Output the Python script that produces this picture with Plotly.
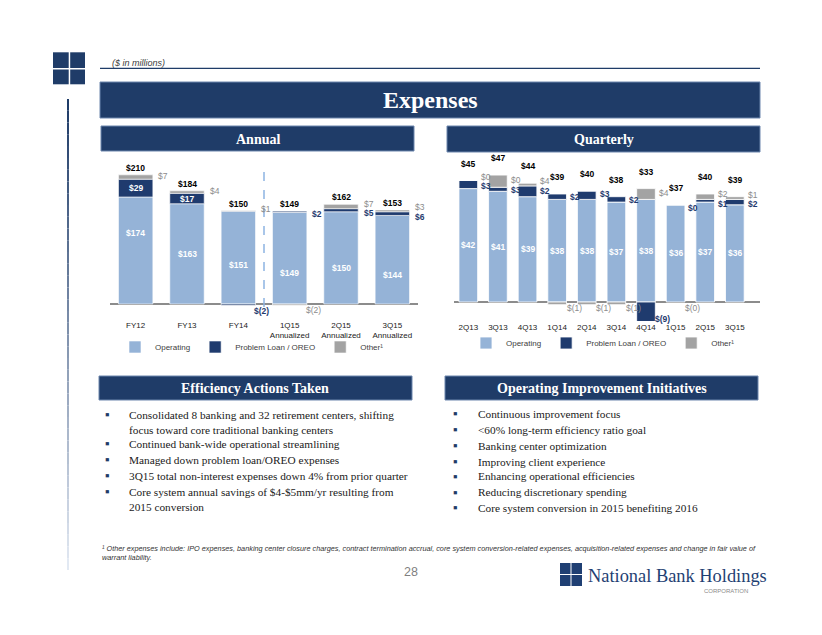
import plotly.graph_objects as go

# ---------------- data ----------------
annual_cats = ["FY12", "FY13", "FY14", "1Q15<br>Annualized", "2Q15<br>Annualized", "3Q15<br>Annualized"]
annual_operating = [174, 163, 151, 149, 150, 144]
annual_problem = [29, 17, -2, 2, 5, 6]
annual_other = [7, 4, 1, -2, 7, 3]
annual_total = [210, 184, 150, 149, 162, 153]

quarter_cats = ["2Q13", "3Q13", "4Q13", "1Q14", "2Q14", "3Q14", "4Q14", "1Q15", "2Q15", "3Q15"]
quarter_operating = [42, 41, 39, 38, 38, 37, 38, 36, 37, 36]
quarter_problem = [3, 1.5, 4, 2, 3, 2, -9, 0, 1, 2]
quarter_other = [0, 4.5, 1, -1, -1, -1, 4, 0, 2, 1]
quarter_total = [45, 47, 44, 39, 40, 38, 33, 37, 40, 39]
quarter_problem_text = ["$3", "$3", "$2", "$2", "$3", "$2", "$(9)", "$0", "$1", "$2"]
quarter_other_text = ["$0", "$0", "$4", "$(1)", "$(1)", "$(1)", "$4", "$(0)", "$2", "$1"]

series_names = ["Operating", "Problem Loan / OREO", "Other\u00b9"]

efficiency_bullets = [
    "Consolidated 8 banking and 32 retirement centers, shifting<br>focus toward core traditional banking centers",
    "Continued bank-wide operational streamlining",
    "Managed down problem loan/OREO expenses",
    "3Q15 total non-interest expenses down 4% from prior quarter",
    "Core system annual savings of $4-$5mm/yr resulting from<br>2015 conversion",
]
improvement_bullets = [
    "Continuous improvement focus",
    "<60% long-term efficiency ratio goal",
    "Banking center optimization",
    "Improving client experience",
    "Enhancing operational efficiencies",
    "Reducing discretionary spending",
    "Core system conversion in 2015 benefiting 2016",
]
footnote = ("\u00b9 Other expenses include: IPO expenses, banking center closure charges, contract termination accrual, "
            "core system conversion-related expenses, acquisition-related expenses and change in fair value of<br>warrant liability.")

# ---------------- style / layout ----------------
W, H = 822, 635
SANS = "Arial, Liberation Sans, sans-serif"
SERIF = "Times New Roman, Liberation Serif, serif"
C_OP = "#95B3D7"
C_PB = "#1F3B6E"
C_OT = "#A3A3A3"
C_OT_TXT = "#8C8C8C"
NAVY = "#1F3C68"


def P(x):
    return x / W


def Q(y):
    return 1 - y / H


# annual geometry (pixels)
A_BASE, A_PPU, A_TOP, A_BOT = 304, 0.615, 160, 310
A_X0, A_X1 = 110, 418
# quarterly geometry
Q_BASE, Q_PPU, Q_TOP, Q_BOT = 302, 2.7, 158, 321
Q_X0, Q_X1 = 453.5, 760

A_BW, Q_BW = 0.67, 0.63
annual_op_frac = [0.66, 0.5, 0.42, 0.34, 0.39, 0.33]


def fmt(v):
    v = int(round(v))
    return "$(%d)" % abs(v) if v < 0 else "$%d" % v


fig = go.Figure()
for vals, name, col in zip([annual_operating, annual_problem, annual_other], series_names, [C_OP, C_PB, C_OT]):
    fig.add_trace(go.Bar(x=annual_cats, y=vals, name=name, width=A_BW, xaxis="x", yaxis="y", legend="legend",
                         marker=dict(color=col, line=dict(color="white", width=0.6)), hoverinfo="skip"))
for vals, name, col in zip([quarter_operating, quarter_problem, quarter_other], series_names, [C_OP, C_PB, C_OT]):
    fig.add_trace(go.Bar(x=quarter_cats, y=vals, name=name, width=Q_BW, xaxis="x2", yaxis="y2", legend="legend2",
                         marker=dict(color=col, line=dict(color="white", width=0.8)), hoverinfo="skip"))

annotations = []


def ann(x, y, text, color, xref="paper", yref="paper", size=8.5, bold=True, family=SANS,
        xanchor="center", yanchor="middle", xshift=0, yshift=0, align="center"):
    annotations.append(dict(x=x, y=y, xref=xref, yref=yref, text=("<b>%s</b>" % text) if bold else text,
                            showarrow=False, font=dict(family=family, size=size, color=color),
                            xanchor=xanchor, yanchor=yanchor, xshift=xshift, yshift=yshift, align=align))


def chart_labels(xr, yr, ops, pbs, ots, totals, pb_txt, ot_txt, ppu, bw, rshift, below_dx,
                 op_fracs, total_shift, inside_min):
    for i in range(len(ops)):
        op, pb, ot = ops[i], pbs[i], ots[i]
        pos_top = op + max(pb, 0) + max(ot, 0)
        ann(i, pos_top, fmt(totals[i]), "#000000", xr, yr, yshift=total_shift)
        ann(i, op * op_fracs[i], fmt(op), "#FFFFFF", xr, yr)
        right = []
        # problem loan
        if pb >= inside_min:
            ann(i, op + pb / 2, pb_txt[i], "#FFFFFF", xr, yr)
        elif "(" in pb_txt[i]:
            off = max(7, abs(pb) * ppu - 7)
            ann(i + below_dx, 0, pb_txt[i], C_PB, xr, yr, xanchor="left", yshift=-off)
        else:
            right.append(["pb", op + max(pb, 0), -3])
        # other
        if "(" in ot_txt[i]:
            ann(i + below_dx, 0, ot_txt[i], C_OT_TXT, xr, yr, bold=False, xanchor="left", yshift=-6)
        else:
            right.append(["ot", op + max(pb, 0) + ot / 2, 1.5])
        if len(right) == 2:
            pbl, otl = right
            p_px = -pbl[1] * ppu - pbl[2]
            o_px = -otl[1] * ppu - otl[2]
            gap = p_px - o_px
            if gap < 9.5:
                d = (9.5 - gap) / 2
                pbl[2] += -d
                otl[2] += d
        for kind, yv, ys in right:
            if kind == "pb":
                ann(i + bw / 2, yv, pb_txt[i], C_PB, xr, yr, xanchor="left", xshift=rshift, yshift=ys)
            else:
                ann(i + bw / 2, yv, ot_txt[i], C_OT_TXT, xr, yr, bold=False, xanchor="left",
                    xshift=rshift, yshift=ys)


chart_labels("x", "y", annual_operating, annual_problem, annual_other, annual_total,
             [fmt(v) for v in annual_problem], [fmt(v) for v in annual_other],
             A_PPU, A_BW, 3.5, 0.27, annual_op_frac, 7, 10)
chart_labels("x2", "y2", quarter_operating, quarter_problem, quarter_other, quarter_total,
             quarter_problem_text, quarter_other_text,
             Q_PPU, Q_BW, 1.5, 0.25, [0.5] * len(quarter_cats), 17, 1e9)

shapes = []


def rect(x0, y0, x1, y1, fill, line=None, lw=0):
    shapes.append(dict(type="rect", xref="paper", yref="paper", x0=P(x0), x1=P(x1), y0=Q(y1), y1=Q(y0),
                       fillcolor=fill, line=dict(color=line or fill, width=lw), layer="below"))


# top-left squares
for (x0, x1) in [(53, 68.7), (70.2, 85)]:
    for (y0, y1) in [(52.3, 68), (69.5, 84.3)]:
        rect(x0, y0, x1, y1, NAVY)

# vertical gradient rule
n_seg = 40
y_a, y_b = 99, 570
c0 = (0x1F, 0x3C, 0x68)
c1 = (0xE2, 0xE9, 0xF3)
for k in range(n_seg):
    t = k / (n_seg - 1)
    col = "rgb(%d,%d,%d)" % tuple(int(c0[j] + (c1[j] - c0[j]) * t) for j in range(3))
    ya = y_a + (y_b - y_a) * k / n_seg
    yb = y_a + (y_b - y_a) * (k + 1) / n_seg
    shapes.append(dict(type="line", xref="paper", yref="paper", x0=P(68), x1=P(68), y0=Q(ya), y1=Q(yb),
                       line=dict(color=col, width=2)))

# rule under ($ in millions)
shapes.append(dict(type="line", xref="paper", yref="paper", x0=P(100), x1=P(760), y0=Q(68.3), y1=Q(68.3),
                   line=dict(color=NAVY, width=1.2)))

# header boxes
boxes = [
    (100, 82, 760, 118, "Expenses", 24),
    (101, 126, 414, 151, "Annual", 14),
    (447, 126, 760, 152, "Quarterly", 14),
    (99, 376, 412, 400, "Efficiency Actions Taken", 14),
    (445, 376, 758, 400, "Operating Improvement Initiatives", 14),
]
for x0, y0, x1, y1, txt, fs in boxes:
    rect(x0, y0, x1, y1, NAVY, "#6C86AD", 1)
    ann(P((x0 + x1) / 2), Q((y0 + y1) / 2 + 0.5), txt, "#FFFFFF", size=fs, family=SERIF)

# dashed divider in annual chart
shapes.append(dict(type="line", xref="x", yref="y", x0=2.5, x1=2.5, y0=-5, y1=229,
                   line=dict(color="#8DB4E2", width=1.5, dash="dash")))

# logo squares
for (x0, x1) in [(560, 570.5), (571.5, 582)]:
    for (y0, y1) in [(563, 574), (575, 586)]:
        rect(x0, y0, x1, y1, "#1F3F73")

# texts
ann(P(110), Q(63.5), "<i>($ in millions)</i>", "#404040", size=9, bold=False, xanchor="left")

lines_y_left = [414, 443, 459, 475, 491]
for txt, yy in zip(efficiency_bullets, lines_y_left):
    ann(P(103), Q(yy), "\u25aa", NAVY, size=13, bold=False, xanchor="left")
    ann(P(127), Q(yy - 7.5), txt, "#1A1A1A", size=11.3, bold=False, family=SERIF, xanchor="left",
        yanchor="top", align="left")
lines_y_right = [413, 429, 445, 461, 476, 492, 507]
for txt, yy in zip(improvement_bullets, lines_y_right):
    ann(P(451), Q(yy), "\u25aa", NAVY, size=13, bold=False, xanchor="left")
    ann(P(476), Q(yy - 7.5), txt, "#1A1A1A", size=11.3, bold=False, family=SERIF, xanchor="left",
        yanchor="top", align="left")

ann(P(100), Q(542), "<i>%s</i>" % footnote, "#333333", size=7.3, bold=False, xanchor="left", yanchor="top",
    align="left")
ann(P(411), Q(572), "28", "#7F7F7F", size=12.5, bold=False)
ann(P(586), Q(576), "National Bank Holdings", "#1F3F73", size=18.4, bold=False, family=SERIF, xanchor="left")
ann(P(726), Q(590.5), "CORPORATION", "#8A8A8A", size=6, bold=False)

fig.update_layout(
    width=W, height=H, margin=dict(l=0, r=0, t=0, b=0),
    paper_bgcolor="white", plot_bgcolor="rgba(0,0,0,0)",
    barmode="relative", hovermode=False, showlegend=True,
    xaxis=dict(domain=[P(A_X0), P(A_X1)], anchor="y", type="category", range=[-0.5, 5.5],
               showgrid=False, showline=False, zeroline=False, ticks="outside", ticklen=7,
               tickcolor="rgba(0,0,0,0)", tickfont=dict(family=SANS, size=8, color="#222222")),
    yaxis=dict(domain=[Q(A_BOT), Q(A_TOP)], anchor="x",
               range=[-(A_BOT - A_BASE) / A_PPU, (A_BASE - A_TOP) / A_PPU],
               showgrid=False, showticklabels=False, showline=False, zeroline=True,
               zerolinecolor="#8C8C8C", zerolinewidth=1.5),
    xaxis2=dict(domain=[P(Q_X0), P(Q_X1)], anchor="y2", type="category", range=[-0.5, 9.85],
                showgrid=False, showline=False, zeroline=False, ticks="",
                tickfont=dict(family=SANS, size=8, color="#222222")),
    yaxis2=dict(domain=[Q(Q_BOT), Q(Q_TOP)], anchor="x2",
                range=[-(Q_BOT - Q_BASE) / Q_PPU, (Q_BASE - Q_TOP) / Q_PPU],
                showgrid=False, showticklabels=False, showline=False, zeroline=True,
                zerolinecolor="#8C8C8C", zerolinewidth=1.5),
    legend=dict(orientation="h", x=P(115), y=Q(347), xanchor="left", yanchor="middle",
                font=dict(family=SANS, size=8, color="#404040"), bgcolor="rgba(0,0,0,0)",
                itemwidth=30, tracegroupgap=0),
    legend2=dict(orientation="h", x=P(466), y=Q(343), xanchor="left", yanchor="middle",
                 font=dict(family=SANS, size=8, color="#404040"), bgcolor="rgba(0,0,0,0)",
                 itemwidth=30, tracegroupgap=0),
    shapes=shapes, annotations=annotations,
)

fig.write_html("out.html", config={"displayModeBar": False, "staticPlot": True},
               post_script="document.body.style.margin='0';document.body.style.padding='0';")
